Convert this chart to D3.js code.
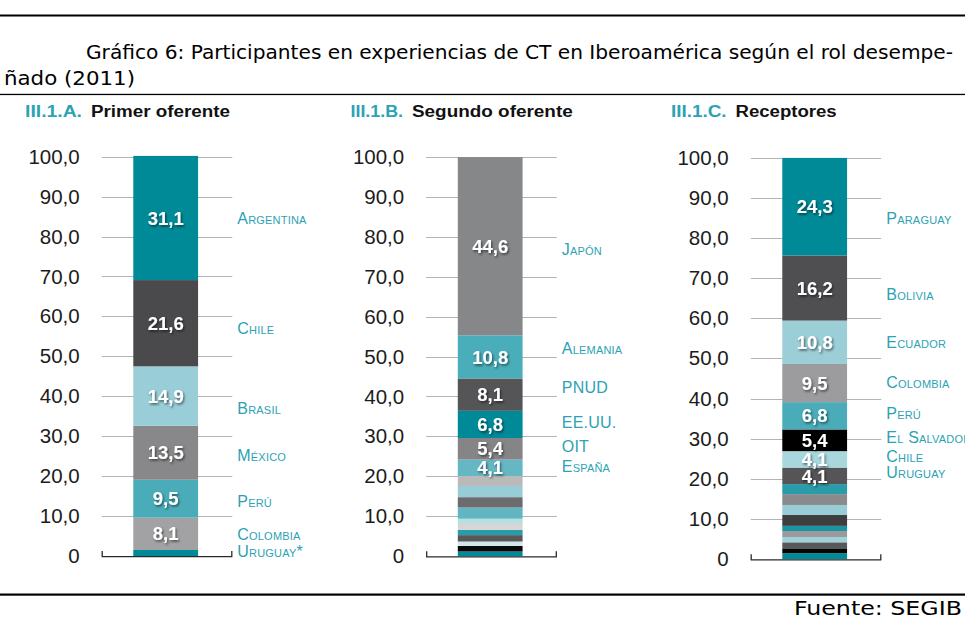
<!DOCTYPE html>
<html><head><meta charset="utf-8">
<script src="https://cdn.jsdelivr.net/npm/d3@7"></script>
<style>
html,body{margin:0;padding:0;background:#fff;}
svg{display:block;}
</style></head>
<body>
<svg id="chart" width="965" height="637"></svg>
<script>
// ---------------- DATA ----------------
const panelCodes = ["III.1.A.", "III.1.B.", "III.1.C."];
const panelTitles = ["Primer oferente", "Segundo oferente", "Receptores"];
const yTicks = [0, 10, 20, 30, 40, 50, 60, 70, 80, 90, 100];

// stacked bottom -> top
const primerNames  = ["Uruguay*", "Colombia", "Perú", "México", "Brasil", "Chile", "Argentina"];
const primerValues = [1.5, 8.1, 9.5, 13.5, 14.9, 21.6, 31.1];

const segundoNames  = [null, null, null, null, null, null, null, null, null, null, null,
                       "España", "OIT", "EE.UU.", "PNUD", "Alemania", "Japón"];
const segundoValues = [1.2, 1.4, 1.1, 1.6, 1.3, 1.5, 1.3, 2.8, 2.6, 2.8, 2.5,
                       4.1, 5.4, 6.8, 8.1, 10.8, 44.6];

const receptorNames  = [null, null, null, null, null, null, null, null, null, null,
                        "Uruguay", "Chile", "El Salvador", "Perú", "Colombia", "Ecuador", "Bolivia", "Paraguay"];
const receptorValues = [1.5, 1.2, 1.5, 1.3, 1.5, 1.3, 2.7, 2.5, 2.7, 2.5,
                        4.1, 4.1, 5.4, 6.8, 9.5, 10.8, 16.2, 24.3];

// ---------------- STYLE ----------------
const primerColors = ["#008a98", "#a2a2a4", "#4aacb9", "#88888a", "#99cdd7", "#4a4a4c", "#008a98"];
const segundoColors = ["#008a98", "#0a0a0a", "#d3e7ea", "#58585a", "#2a9ba8", "#d6d6d6", "#b6dee3",
                       "#62b6c2", "#6c6c6e", "#98ccd6", "#bababa",
                       "#64b7c3", "#858587", "#008a98", "#555557", "#4aaeba", "#868789"];
const receptorColors = ["#008a98", "#050505", "#58585a", "#9fd1d9", "#9a9a9c", "#1a94a1", "#3e3e40",
                        "#98ccd6", "#8a8a8c", "#2a9ca9",
                        "#555557", "#a8d7de", "#000000", "#4aacb9", "#9c9c9e", "#9bced7", "#4f4f51", "#008a98"];
// label nudges in px (design layout)
const primerNudge   = [-2, 0, 3, 2, 12, 5, 0];
const segundoNudge  = [0,0,0,0,0,0,0,0,0,0,0, -1.4, -3, -1.7, -7, -8.6, 2.8];
const receptorNudge = [0,0,0,0,0,0,0,0,0,0, -3.3, -3.4, -3.3, -2.2, -0.4, -0.2, 5.7, 11.5];
const minValueLabel = 4;

const teal = "#2ca2b4";
const svg = d3.select("#chart");

const defs = svg.append("defs");
const f = defs.append("filter").attr("id","shadow").attr("x","-30%").attr("y","-30%").attr("width","160%").attr("height","160%");
f.append("feDropShadow").attr("dx",1.2).attr("dy",1.6).attr("stdDeviation",1.1)
 .attr("flood-color","#000").attr("flood-opacity",0.55);

// ---------------- FRAME / TITLES ----------------
svg.append("rect").attr("x",0).attr("y",14.5).attr("width",965).attr("height",2).attr("fill","#000");
svg.append("rect").attr("x",0).attr("y",93.8).attr("width",965).attr("height",1.3).attr("fill","#000");
svg.append("rect").attr("x",0).attr("y",593.5).attr("width",965).attr("height",2.2).attr("fill","#000");

const titleFont = "'DejaVu Sans Condensed','DejaVu Sans',Tahoma,sans-serif";
svg.append("text").attr("x",86).attr("y",58.5)
  .attr("font-family",titleFont).attr("font-size",19).attr("fill","#000")
  .attr("textLength",867).attr("lengthAdjust","spacingAndGlyphs")
  .text("Gráfico 6: Participantes en experiencias de CT en Iberoamérica según el rol desempe-");
svg.append("text").attr("x",4).attr("y",85)
  .attr("font-family",titleFont).attr("font-size",19).attr("fill","#000")
  .attr("textLength",131).attr("lengthAdjust","spacingAndGlyphs")
  .text("ñado (2011)");
svg.append("text").attr("x",794).attr("y",614.5)
  .attr("font-family",titleFont).attr("font-size",19).attr("fill","#000")
  .attr("textLength",168).attr("lengthAdjust","spacingAndGlyphs")
  .text("Fuente: SEGIB");

// ---------------- PANELS ----------------
const panelData = [
  {names: primerNames,   values: primerValues,   colors: primerColors,   nudge: primerNudge},
  {names: segundoNames,  values: segundoValues,  colors: segundoColors,  nudge: segundoNudge},
  {names: receptorNames, values: receptorValues, colors: receptorColors, nudge: receptorNudge}
];
const baseYs = [556, 556.3, 559.2];
const topYs  = [156.7, 156.7, 157.5];

const panelX = d3.scaleLinear().domain([0, 2]).range([101.7, 750.7]);
const gridW = 130.6;
const subStart = [25, 350.5, 671];
const subTitleStart = [91, 412, 735.5];
const subEnd = [230, 572.7, 836.7];

panelData.forEach((pd, i) => {
  const x0 = panelX(i);
  const g = svg.append("g").attr("transform", `translate(${x0},0)`);
  const y = d3.scaleLinear().domain([0, 100]).range([baseYs[i], topYs[i]]);
  const xb = d3.scaleBand().domain(["bar"]).range([0, gridW]).paddingOuter(0.508).align(0.48);

  // subtitles
  svg.append("text").attr("x", subStart[i]).attr("y", 117.3)
    .attr("font-family","'Liberation Sans Narrow','Liberation Sans',Arial,sans-serif")
    .attr("font-weight","bold").attr("font-size",16).attr("fill",teal)
    .attr("textLength", subTitleStart[i] - subStart[i] - 9).attr("lengthAdjust","spacingAndGlyphs")
    .text(panelCodes[i]);
  svg.append("text").attr("x", subTitleStart[i]).attr("y", 117.3)
    .attr("font-family","'Liberation Sans Narrow','Liberation Sans',Arial,sans-serif")
    .attr("font-weight","bold").attr("font-size",16).attr("fill","#111")
    .attr("textLength", subEnd[i] - subTitleStart[i]).attr("lengthAdjust","spacingAndGlyphs")
    .text(panelTitles[i]);

  // gridlines
  g.selectAll("line.grid").data(yTicks.filter(d => d > 0)).join("line")
    .attr("class","grid").attr("x1",0).attr("x2",gridW)
    .attr("y1", d => Math.round(y(d)) + 0.5).attr("y2", d => Math.round(y(d)) + 0.5)
    .attr("stroke","#b4b4b4").attr("stroke-width",1);

  // y axis labels
  const axis = d3.axisLeft(y).tickValues(yTicks).tickSize(0).tickPadding(22)
    .tickFormat(d => d === 0 ? "0" : d3.format(".1f")(d).replace(".", ","));
  const ag = g.append("g").call(axis);
  ag.select(".domain").remove();
  ag.selectAll("text").attr("font-family","'Liberation Sans',Arial,sans-serif")
    .attr("font-size",20.5).attr("fill","#1c1c1c");

  // stack
  let cum = 0;
  const segs = pd.values.map((v, k) => {
    const s = {v, y0: cum, y1: cum + v, name: pd.names[k], color: pd.colors[k], nudge: pd.nudge[k]};
    cum += v; return s;
  });

  g.selectAll("rect.seg").data(segs).join("rect").attr("class","seg")
    .attr("x", xb("bar")).attr("width", xb.bandwidth())
    .attr("y", d => y(d.y1)).attr("height", d => y(d.y0) - y(d.y1))
    .attr("fill", d => d.color);

  // baseline with end ticks
  const by = baseYs[i];
  g.append("path").attr("d", `M0.5,${by-5}V${by+0.6}H${gridW-0.5}V${by-5}`)
    .attr("fill","none").attr("stroke","#2a2a2a").attr("stroke-width",1.3);

  const named = segs.filter(d => d.name);
  // value labels
  g.selectAll("text.val").data(named.filter(d => d.v >= minValueLabel)).join("text").attr("class","val")
    .attr("x", xb("bar") + xb.bandwidth()/2)
    .attr("y", d => y((d.y0 + d.y1)/2)).attr("dy","0.36em")
    .attr("text-anchor","middle")
    .attr("font-family","'Liberation Sans',Arial,sans-serif").attr("font-weight","bold")
    .attr("font-size",18.5).attr("fill","#fff").attr("filter","url(#shadow)")
    .text(d => d3.format(".1f")(d.v).replace(".", ","));

  // country labels
  g.selectAll("text.name").data(named).join("text").attr("class","name")
    .attr("x", gridW + 5)
    .attr("y", d => y((d.y0 + d.y1)/2) + d.nudge).attr("dy","0.36em")
    .attr("font-family","'Liberation Sans',Arial,sans-serif")
    .attr("font-size",16).attr("letter-spacing","0.2px")
    .style("font-variant","small-caps")
    .attr("fill", teal)
    .text(d => d.name);
});
</script>
</body></html>
